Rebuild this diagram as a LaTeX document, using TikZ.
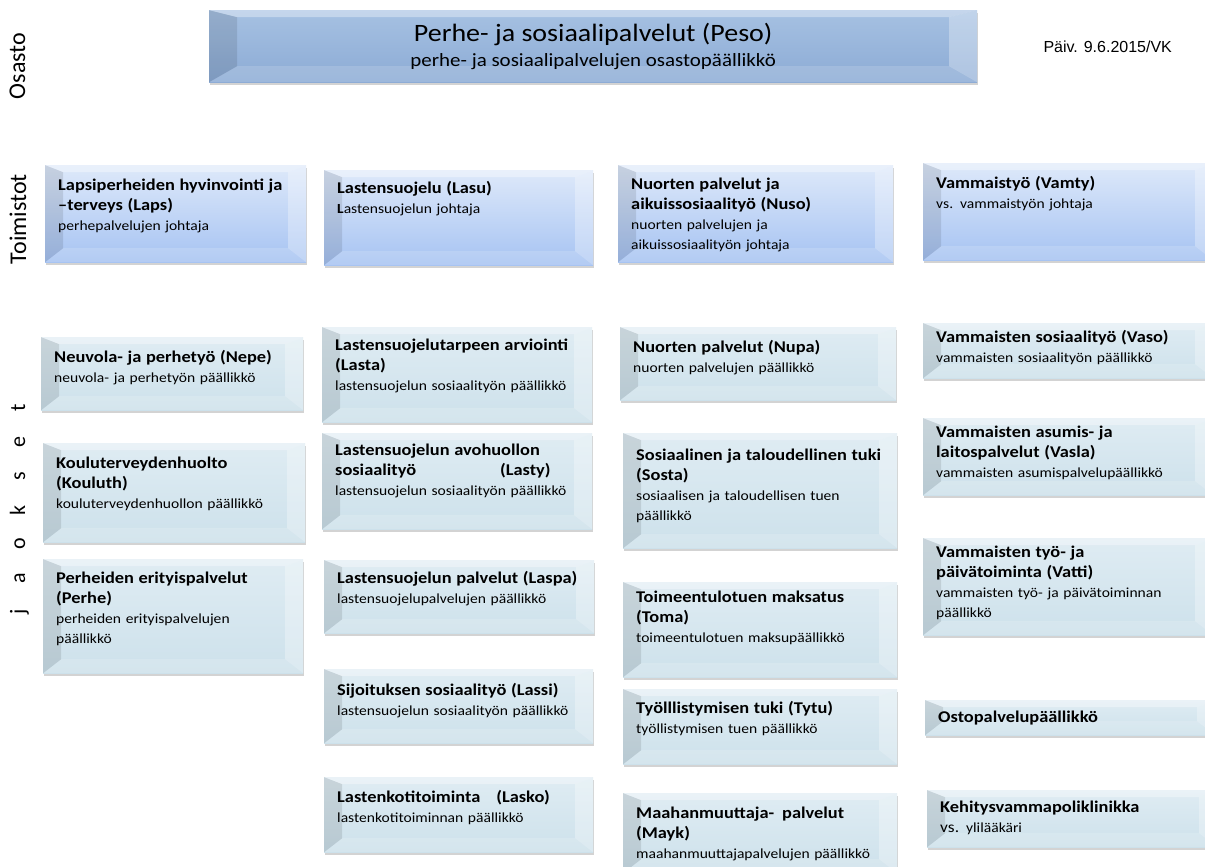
\documentclass[tikz,border=0pt]{standalone}
\usepackage{fontspec}
\setmainfont{Carlito}
\newfontfamily\boxfont{Carlito}[FakeStretch=1.12]
\newfontfamily\datefont{Liberation Sans}
\usetikzlibrary{shadows}

\definecolor{pesotop}{RGB}{166,193,226}
\definecolor{pesobot}{RGB}{140,171,213}
\definecolor{toimtop}{RGB}{222,233,250}
\definecolor{toimbot}{RGB}{166,195,242}
\definecolor{jaostop}{RGB}{223,236,243}
\definecolor{jaosbot}{RGB}{205,225,235}

% bold heading line(s) of a box
\newcommand\hd[1]{{\fontsize{16.4}{20}\selectfont\bfseries #1}}

\begin{document}
\begin{tikzpicture}[x=1pt,y=-1pt,
  bevel/.style n args={3}{path picture={
    \coordinate (bnw) at (path picture bounding box.north west);
    \coordinate (bne) at (path picture bounding box.north east);
    \coordinate (bsw) at (path picture bounding box.south west);
    \coordinate (bse) at (path picture bounding box.south east);
    \coordinate (inw) at ([shift={(#1pt,-#2pt)}]bnw);
    \coordinate (ine) at ([shift={(-#1pt,-#2pt)}]bne);
    \coordinate (isw) at ([shift={(#1pt,#3pt)}]bsw);
    \coordinate (ise) at ([shift={(-#1pt,#3pt)}]bse);
    \fill[white,opacity=.35] (bnw) -- (bne) -- (ine) -- (inw) -- cycle;
    \fill[black,opacity=.10] (bnw) -- (inw) -- (isw) -- (bsw) -- cycle;
    \fill[white,opacity=.30] (bne) -- (ine) -- (ise) -- (bse) -- cycle;
    \fill[white,opacity=.15] (bsw) -- (isw) -- (ise) -- (bse) -- cycle;
  }},
  card/.style n args={3}{anchor=north west, inner xsep=13pt, inner ysep=0pt,
    text width=#1pt-26pt, text height=#3pt, text depth=#2pt-#3pt, align=left,
    font=\boxfont\fontsize{13.9}{20}\selectfont,
    drop shadow={opacity=.35, shadow xshift=1pt, shadow yshift=-3pt},
    bevel={18}{7}{14}},
  toimisto/.style={top color=toimtop, bottom color=toimbot},
  jaos/.style={top color=jaostop, bottom color=jaosbot},
  side/.style={rotate=90, anchor=base, font=\fontsize{24}{28}\selectfont},
]
\useasboundingbox (0,0) rectangle (1205,867);

% osasto
\node[anchor=north west, minimum width=768pt, minimum height=72pt, inner sep=0pt,
  top color=pesotop, bottom color=pesobot, align=center,
  font=\boxfont\fontsize{18.7}{25}\selectfont,
  drop shadow={opacity=.35, shadow xshift=1pt, shadow yshift=-3pt},
  bevel={28}{7}{16}] (peso) at (209,10)
  {{\fontsize{25}{25}\selectfont Perhe- ja sosiaalipalvelut (Peso)}\\
   perhe- ja sosiaalipalvelujen osastopäällikkö};
\node[anchor=base west, font=\datefont\fontsize{16}{18}\selectfont] (paiv) at (1040,53) {Päiv. 9.6.2015/VK};

% the level names on the left
\node[side] (osasto) at (25,66) {Osasto};
\node[side] (toimistot) at (26,219) {Toimistot};
\foreach \ch [count=\i] in {j,a,o,k,s,e,t}
  \node[side, font=\fontsize{22}{26}\selectfont] (jaokset\i) at (25,{612-34*(\i-1)}) {\ch};

% toimistot
\node[card={261}{97}{25}, toimisto] (laps) at (45,165)
  {\hd{Lapsiperheiden hyvinvointi ja\\–terveys (Laps)}\\perhepalvelujen johtaja};
\node[card={269}{95}{23}, toimisto] (lasu) at (324,170)
  {\hd{Lastensuojelu (Lasu)}\\\textbf{L}astensuojelun johtaja};
\node[card={275}{97}{24}, toimisto] (nuso) at (618,165)
  {\hd{Nuorten palvelut ja\\aikuissosiaalityö (Nuso)}\\nuorten palvelujen ja\\aikuissosiaalityön johtaja};
\node[card={290}{97}{25}, toimisto] (vamty) at (923,163)
  {\hd{Vammaistyö (Vamty)}\\vs. vammaistyön johtaja};

% jaokset, first column
\node[card={262}{73}{25}, jaos] (nepe) at (41,337)
  {\hd{Neuvola- ja perhetyö (Nepe)}\\neuvola- ja perhetyön päällikkö};
\node[card={262}{99}{25}, jaos] (kouluth) at (43,443)
  {\hd{Kouluterveydenhuolto\\(Kouluth)}\\kouluterveydenhuollon päällikkö};
\node[card={260}{114}{24}, jaos] (perhe) at (43,559)
  {\hd{Perheiden erityispalvelut\\(Perhe)}\\perheiden erityispalvelujen\\päällikkö};

% second column
\node[card={270}{95}{23}, jaos] (lasta) at (322,327)
  {\hd{Lastensuojelutarpeen arviointi\\(Lasta)}\\lastensuojelun sosiaalityön päällikkö};
\node[card={270}{96}{22}, jaos] (lasty) at (322,433)
  {\hd{Lastensuojelun avohuollon\\sosiaalityö\hspace*{84pt}(Lasty)}\\lastensuojelun sosiaalityön päällikkö};
\node[card={270}{73}{23}, jaos] (laspa) at (324,560)
  {\hd{Lastensuojelun palvelut (Laspa)}\\lastensuojelupalvelujen päällikkö};
\node[card={269}{74}{26}, jaos] (lassi) at (324,669)
  {\hd{Sijoituksen sosiaalityö (Lassi)}\\lastensuojelun sosiaalityön päällikkö};
\node[card={269}{75}{25}, jaos] (lasko) at (324,777)
  {\hd{Lastenkotitoiminta\hspace*{16pt}(Lasko)}\\lastenkotitoiminnan päällikkö};

% third column
\node[card={276}{73}{25}, jaos] (nupa) at (620,327)
  {\hd{Nuorten palvelut (Nupa)}\\nuorten palvelujen päällikkö};
\node[card={274}{115}{27}, jaos] (sosta) at (623,433)
  {\hd{Sosiaalinen ja taloudellinen tuki\\(Sosta)}\\sosiaalisen ja taloudellisen tuen\\päällikkö};
\node[card={274}{95}{20}, jaos] (toma) at (623,582)
  {\hd{Toimeentulotuen maksatus\\(Toma)}\\toimeentulotuen maksupäällikkö};
\node[card={274}{75}{24}, jaos] (tytu) at (623,689)
  {\hd{Työlllistymisen tuki (Tytu)}\\työllistymisen tuen päällikkö};
\node[card={274}{80}{25}, jaos] (mayk) at (623,793)
  {\hd{Maahanmuuttaja-\hspace*{8pt}palvelut\\(Mayk)}\\maahanmuuttajapalvelujen päällikkö};

% fourth column
\node[card={290}{55}{19}, jaos] (vaso) at (923,323)
  {\hd{Vammaisten sosiaalityö (Vaso)}\\vammaisten sosiaalityön päällikkö};
\node[card={290}{77}{19}, jaos] (vasla) at (923,418)
  {\hd{Vammaisten asumis- ja\\laitospalvelut (Vasla)}\\vammaisten asumispalvelupäällikkö};
\node[card={290}{97}{19}, jaos] (vatti) at (923,538)
  {\hd{Vammaisten työ- ja\\päivätoiminta (Vatti)}\\vammaisten työ- ja päivätoiminnan\\päällikkö};
\node[card={290}{35}{22}, jaos] (osto) at (925,700)
  {\hd{Ostopalvelupäällikkö}};
\node[card={290}{57}{22}, jaos] (kehitys) at (927,790)
  {\hd{Kehitysvammapoliklinikka}\\{\fontsize{15.5}{20}\selectfont vs.} ylilääkäri};
\end{tikzpicture}
\end{document}
